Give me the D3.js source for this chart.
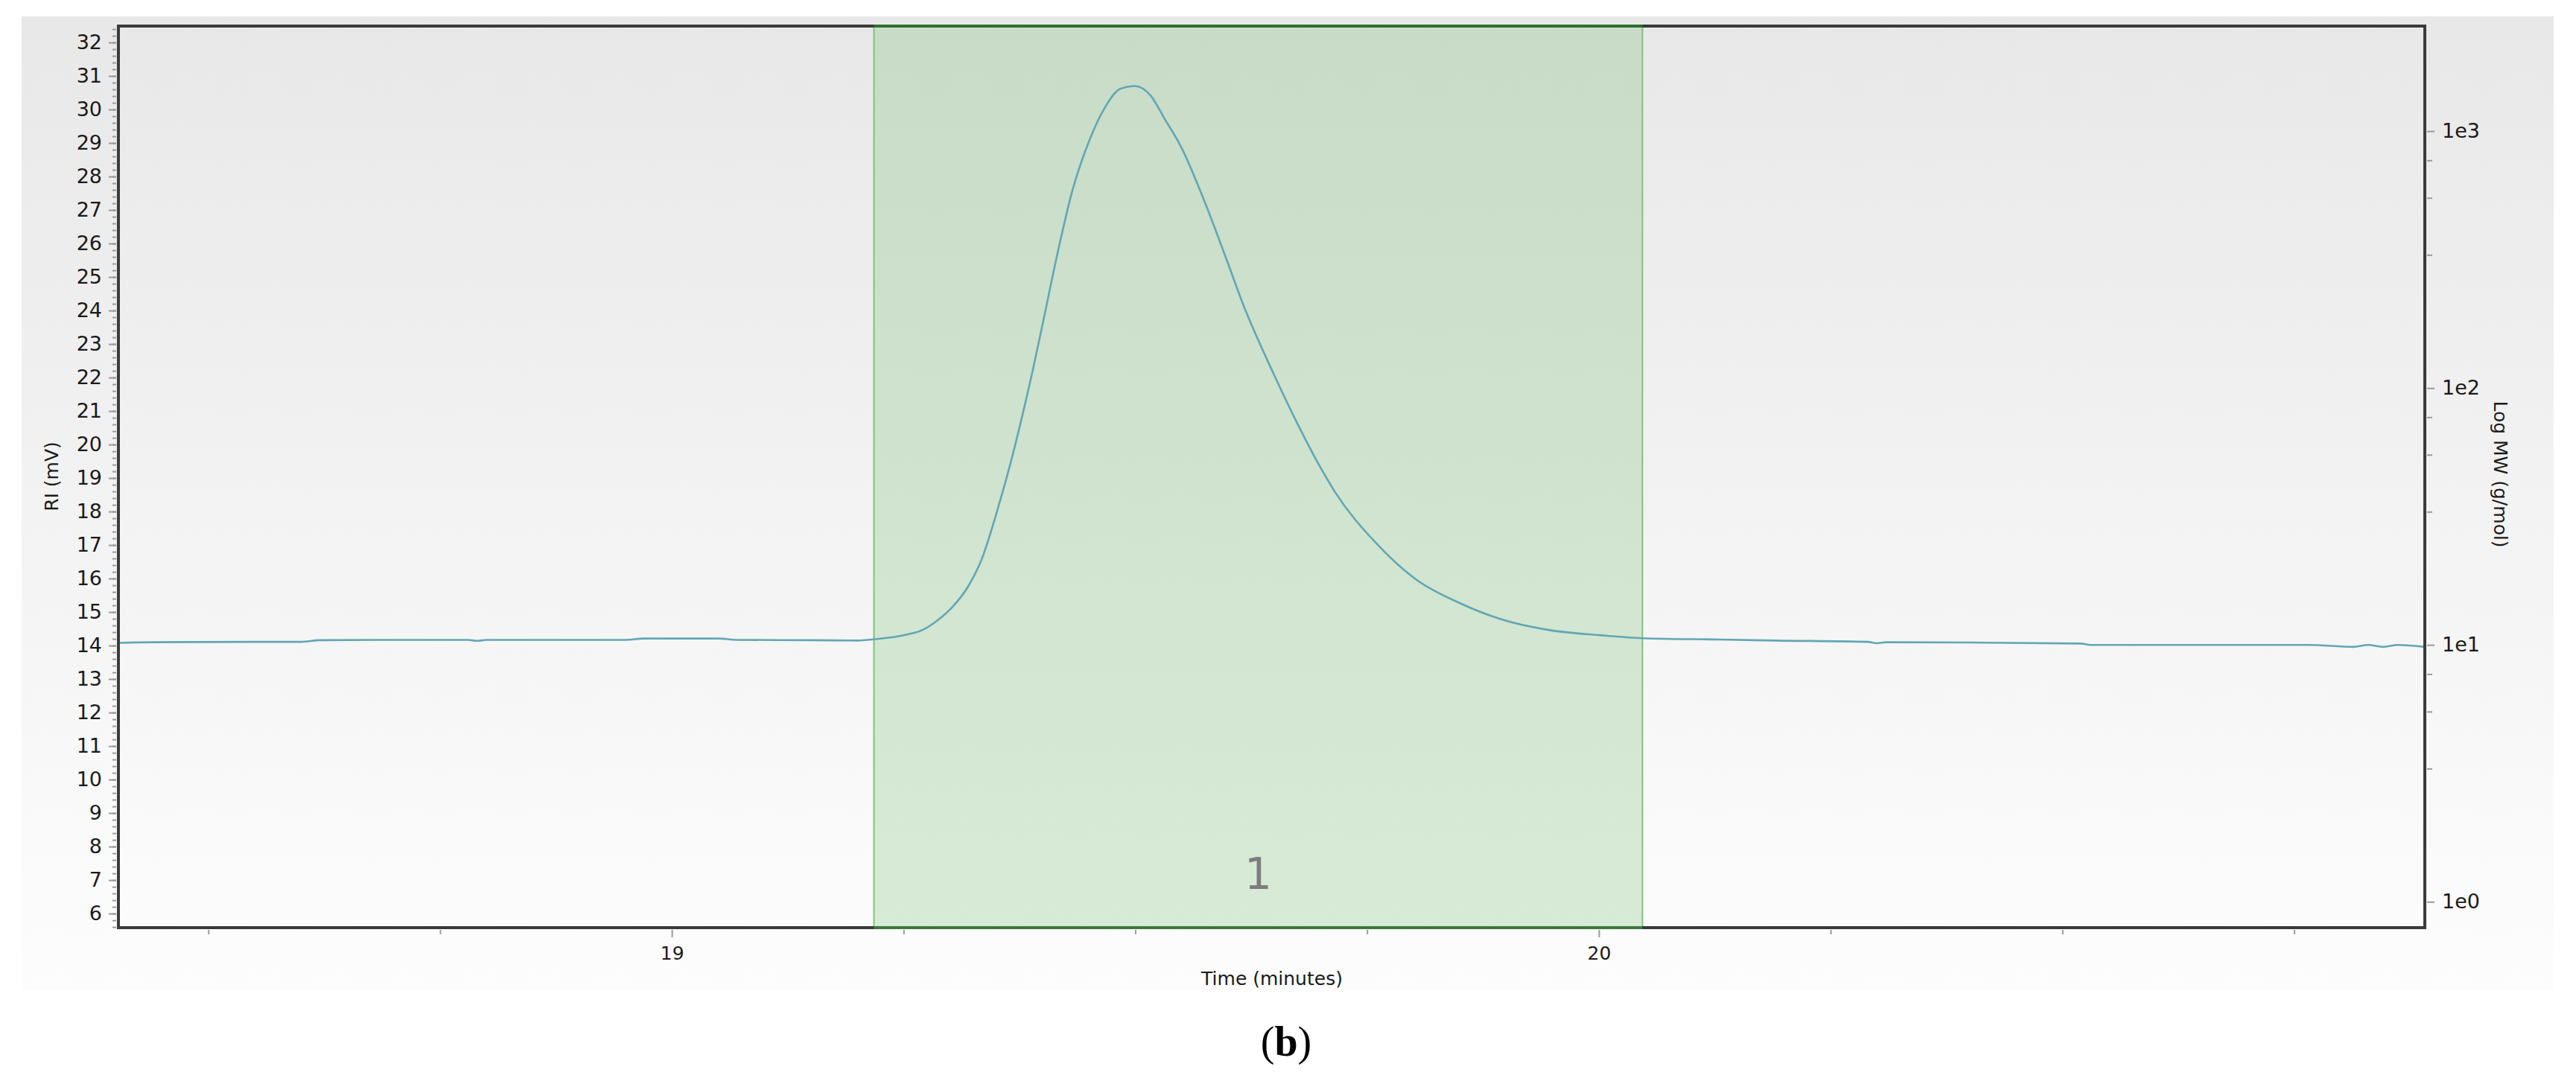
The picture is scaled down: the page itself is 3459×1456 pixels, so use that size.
<!DOCTYPE html>
<html>
<head>
<meta charset="utf-8">
<script src="https://cdn.jsdelivr.net/npm/d3@7"></script>
<style>
  body { margin: 0; background: #ffffff; }
  svg { display: block; }
  .tick text { font-family: "DejaVu Sans", Verdana, sans-serif; }
</style>
</head>
<body>
<script>
// RI trace (time in minutes, RI in mV)
var timeMin = [18.403, 18.44, 18.55, 18.60, 18.62, 18.70, 18.78, 18.79, 18.80, 18.95, 18.97, 19.05, 19.07, 19.15,
  19.200, 19.219, 19.254, 19.270, 19.285, 19.302, 19.320, 19.334, 19.352, 19.366, 19.376, 19.390, 19.400,
  19.418, 19.432, 19.451, 19.467, 19.484, 19.499, 19.517, 19.531, 19.550, 19.574, 19.600, 19.616, 19.649,
  19.678, 19.697, 19.715, 19.761, 19.803, 19.849, 19.894, 19.947, 20.001, 20.047, 20.13, 20.19, 20.29,
  20.30, 20.31, 20.40, 20.52, 20.53, 20.765, 20.814, 20.830, 20.846, 20.862, 20.891];
var riMv = [14.08, 14.10, 14.11, 14.11, 14.16, 14.17, 14.17, 14.14, 14.17, 14.17, 14.21, 14.21, 14.17, 14.16,
  14.15, 14.19, 14.33, 14.46, 14.72, 15.13, 15.78, 16.56, 18.12, 19.51, 20.62, 22.30, 23.60,
  25.95, 27.57, 29.12, 30.05, 30.62, 30.70, 30.40, 29.75, 28.85, 27.30, 25.40, 24.20, 22.12,
  20.45, 19.45, 18.60, 17.02, 15.97, 15.28, 14.79, 14.46, 14.31, 14.22, 14.18, 14.15, 14.11,
  14.07, 14.10, 14.09, 14.06, 14.02, 14.02, 13.96, 14.02, 13.96, 14.02, 13.96];

// integration window (peak 1)
var peakStart = 19.218;
var peakEnd = 20.047;
var peakLabel = "1";

// axes
var xDomain = [18.403, 20.891];
var xMajorTicks = [19, 20];
var xMinorTicks = [18.5, 18.75, 19.25, 19.5, 19.75, 20.25, 20.5, 20.75];
var yDomain = [5.58, 32.49];
var yMajorTicks = d3.range(6, 33);
var mwDomain = [0.793, 2565];
var mwMajorTicks = [1, 10, 100, 1000];
var mwMinorFactors = [3.3, 5.5, 7.7];

var WIDTH = 3459;
var HEIGHT = 1456;
var PLOT = {left: 159, right: 3256, top: 35, bottom: 1246};
var PANEL = {left: 29, right: 3429, top: 22, bottom: 1330};
var FONT = '"DejaVu Sans", Verdana, sans-serif';

var translate = function (x, y) {
  return "translate(" + x + "," + y + ")";
};

var svg = d3.select("body").append("svg")
  .attr("width", WIDTH)
  .attr("height", HEIGHT);

var defs = svg.append("defs");
var bg = defs.append("linearGradient").attr("id", "panelGrad")
  .attr("x1", 0).attr("y1", 0).attr("x2", 0).attr("y2", 1);
bg.append("stop").attr("offset", "0%").attr("stop-color", "#e8e8e8");
bg.append("stop").attr("offset", "100%").attr("stop-color", "#fdfdfd");

svg.append("rect")
  .attr("x", PANEL.left).attr("y", PANEL.top)
  .attr("width", PANEL.right - PANEL.left)
  .attr("height", PANEL.bottom - PANEL.top)
  .attr("fill", "url(#panelGrad)");

var xScale = d3.scaleLinear().domain(xDomain).range([PLOT.left, PLOT.right]);
var yScale = d3.scaleLinear().domain(yDomain).range([PLOT.bottom, PLOT.top]);
var mwScale = d3.scaleLog().domain(mwDomain).range([PLOT.bottom, PLOT.top]);

// peak window
svg.append("rect")
  .attr("x", xScale(peakStart))
  .attr("y", PLOT.top)
  .attr("width", xScale(peakEnd) - xScale(peakStart))
  .attr("height", PLOT.bottom - PLOT.top)
  .attr("fill", "#44a844")
  .attr("fill-opacity", 0.2)
  .attr("stroke", "#7cc47c")
  .attr("stroke-width", 2);

svg.append("text")
  .attr("x", xScale((peakStart + peakEnd) / 2))
  .attr("y", PLOT.bottom - 52)
  .attr("text-anchor", "middle")
  .attr("font-family", FONT)
  .attr("font-size", 58)
  .attr("fill", "#7d7d7d")
  .text(peakLabel);

// trace
var points = timeMin.map(function (t, i) { return {t: t, v: riMv[i]}; });
var line = d3.line()
  .curve(d3.curveMonotoneX)
  .x(function (d) { return xScale(d.t); })
  .y(function (d) { return yScale(d.v); });

svg.append("path")
  .attr("d", line(points))
  .attr("fill", "none")
  .attr("stroke", "#62a6b4")
  .attr("stroke-width", 2.6);

// frame
svg.append("rect")
  .attr("x", PLOT.left).attr("y", PLOT.top)
  .attr("width", PLOT.right - PLOT.left)
  .attr("height", PLOT.bottom - PLOT.top)
  .attr("fill", "none")
  .attr("stroke", "#3a3a3a")
  .attr("stroke-width", 4);

svg.append("line")
  .attr("x1", xScale(peakStart)).attr("x2", xScale(peakEnd))
  .attr("y1", PLOT.top).attr("y2", PLOT.top)
  .attr("stroke", "#2f6e2f").attr("stroke-width", 4);
svg.append("line")
  .attr("x1", xScale(peakStart)).attr("x2", xScale(peakEnd))
  .attr("y1", PLOT.bottom).attr("y2", PLOT.bottom)
  .attr("stroke", "#3c7a3c").attr("stroke-width", 4);

var styleAxis = function (g) {
  g.select(".domain").remove();
  g.selectAll(".tick line").attr("stroke", "#9a9a9a").attr("stroke-width", 2);
  g.selectAll(".tick text").attr("fill", "#1a1a1a").attr("font-family", FONT);
};

// left axis
svg.append("g")
  .attr("transform", translate(PLOT.left - 3, 0))
  .call(d3.axisLeft(yScale).tickValues(d3.range(5.6, 32.5, 0.2)).tickSize(5).tickFormat(""))
  .call(styleAxis);
svg.append("g")
  .attr("transform", translate(PLOT.left - 3, 0))
  .call(d3.axisLeft(yScale).tickValues(yMajorTicks).tickSize(10).tickPadding(9).tickFormat(d3.format("d")))
  .call(styleAxis)
  .selectAll(".tick text").attr("font-size", 27);

// right axis
var mwMinor = [];
mwMajorTicks.forEach(function (m) {
  mwMinorFactors.forEach(function (f) {
    var v = m * f;
    if (v > mwDomain[0] && v < mwDomain[1]) mwMinor.push(v);
  });
});
svg.append("g")
  .attr("transform", translate(PLOT.right + 3, 0))
  .call(d3.axisRight(mwScale).tickValues(mwMinor).tickSize(7).tickFormat(""))
  .call(styleAxis);
svg.append("g")
  .attr("transform", translate(PLOT.right + 3, 0))
  .call(d3.axisRight(mwScale).tickValues(mwMajorTicks).tickSize(10).tickPadding(10)
    .tickFormat(function (d) { return "1e" + Math.round(Math.log10(d)); }))
  .call(styleAxis)
  .selectAll(".tick text").attr("font-size", 27);

// bottom axis
svg.append("g")
  .attr("transform", translate(0, PLOT.bottom + 3))
  .call(d3.axisBottom(xScale).tickValues(xMinorTicks).tickSize(6).tickFormat(""))
  .call(styleAxis);
svg.append("g")
  .attr("transform", translate(0, PLOT.bottom + 3))
  .call(d3.axisBottom(xScale).tickValues(xMajorTicks).tickSize(10).tickPadding(12).tickFormat(d3.format("d")))
  .call(styleAxis)
  .selectAll(".tick text").attr("font-size", 25);

// titles
svg.append("text")
  .attr("transform", translate(78, 640) + " rotate(-90)")
  .attr("text-anchor", "middle")
  .attr("font-family", FONT)
  .attr("font-size", 25)
  .attr("fill", "#1a1a1a")
  .text("RI (mV)");

svg.append("text")
  .attr("transform", translate(3349, 637) + " rotate(90)")
  .attr("text-anchor", "middle")
  .attr("font-family", FONT)
  .attr("font-size", 25)
  .attr("fill", "#1a1a1a")
  .text("Log MW (g/mol)");

svg.append("text")
  .attr("x", 1708).attr("y", 1323)
  .attr("text-anchor", "middle")
  .attr("font-family", FONT)
  .attr("font-size", 25)
  .attr("fill", "#1a1a1a")
  .text("Time (minutes)");

var caption = svg.append("text")
  .attr("x", 1727).attr("y", 1418)
  .attr("text-anchor", "middle")
  .attr("font-family", '"Liberation Serif", "Times New Roman", serif')
  .attr("font-size", 56)
  .attr("fill", "#000");
caption.append("tspan").text("(");
caption.append("tspan").attr("font-weight", "bold").text("b");
caption.append("tspan").text(")");
</script>
</body>
</html>
